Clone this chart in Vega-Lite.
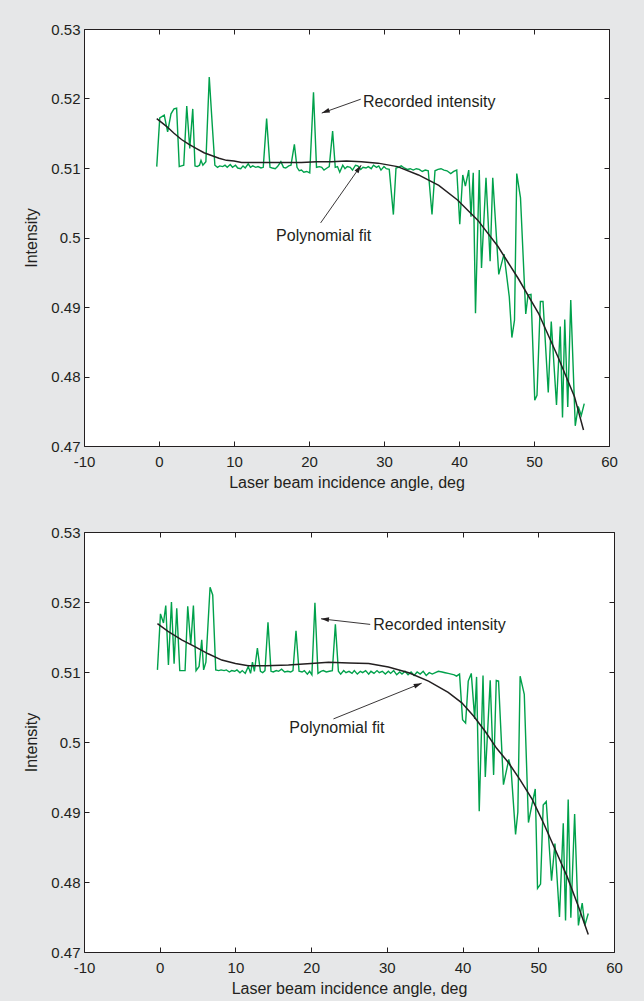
{
  "$schema": "https://vega.github.io/schema/vega-lite/v6.json",
  "background": "#e6e7e8",
  "padding": {"left": 23, "top": 21, "right": 21, "bottom": 4},
  "spacing": 33,
  "datasets": {
    "rec1": [
      {"x": -0.3, "y": 0.5102}, {"x": 0.1, "y": 0.5172}, {"x": 0.7, "y": 0.5176}, {"x": 1.15, "y": 0.5152}, {"x": 1.6, "y": 0.5178},
      {"x": 2.0, "y": 0.5185}, {"x": 2.35, "y": 0.5186}, {"x": 2.7, "y": 0.5102}, {"x": 3.0, "y": 0.5103}, {"x": 3.3, "y": 0.5104},
      {"x": 3.7, "y": 0.5189}, {"x": 4.1, "y": 0.5128}, {"x": 4.5, "y": 0.5185}, {"x": 4.8, "y": 0.5103}, {"x": 5.1, "y": 0.5102},
      {"x": 5.4, "y": 0.5104}, {"x": 5.6, "y": 0.5111}, {"x": 5.85, "y": 0.5104}, {"x": 6.25, "y": 0.5109}, {"x": 6.7, "y": 0.5231},
      {"x": 7.1, "y": 0.5162}, {"x": 7.45, "y": 0.5104}, {"x": 7.8, "y": 0.5101}, {"x": 8.1, "y": 0.5103}, {"x": 8.5, "y": 0.5102},
      {"x": 8.8, "y": 0.5104}, {"x": 9.1, "y": 0.5101}, {"x": 9.5, "y": 0.5105}, {"x": 9.8, "y": 0.5101}, {"x": 10.2, "y": 0.5104},
      {"x": 10.5, "y": 0.51}, {"x": 10.9, "y": 0.5099}, {"x": 11.2, "y": 0.5103}, {"x": 11.5, "y": 0.51}, {"x": 11.9, "y": 0.5106},
      {"x": 12.2, "y": 0.5101}, {"x": 12.5, "y": 0.5103}, {"x": 12.9, "y": 0.5101}, {"x": 13.2, "y": 0.5102}, {"x": 13.6, "y": 0.51},
      {"x": 13.9, "y": 0.5101}, {"x": 14.35, "y": 0.5171}, {"x": 14.8, "y": 0.5101}, {"x": 15.1, "y": 0.51}, {"x": 15.5, "y": 0.5099},
      {"x": 15.8, "y": 0.5102}, {"x": 16.25, "y": 0.5109}, {"x": 16.6, "y": 0.5101}, {"x": 16.9, "y": 0.51}, {"x": 17.3, "y": 0.5103},
      {"x": 17.6, "y": 0.5104}, {"x": 18.05, "y": 0.5134}, {"x": 18.4, "y": 0.5101}, {"x": 18.7, "y": 0.5096}, {"x": 19.0, "y": 0.5097},
      {"x": 19.3, "y": 0.5094}, {"x": 19.7, "y": 0.5095}, {"x": 20.1, "y": 0.5093}, {"x": 20.6, "y": 0.5209}, {"x": 21.0, "y": 0.5101},
      {"x": 21.4, "y": 0.5102}, {"x": 21.7, "y": 0.5101}, {"x": 22.0, "y": 0.5097}, {"x": 22.4, "y": 0.51}, {"x": 22.7, "y": 0.5102},
      {"x": 23.15, "y": 0.5153}, {"x": 23.5, "y": 0.5101}, {"x": 23.8, "y": 0.5102}, {"x": 24.1, "y": 0.5094}, {"x": 24.5, "y": 0.5104},
      {"x": 24.8, "y": 0.5099}, {"x": 25.1, "y": 0.5102}, {"x": 25.5, "y": 0.5101}, {"x": 25.8, "y": 0.5097}, {"x": 26.2, "y": 0.5104},
      {"x": 26.5, "y": 0.5103}, {"x": 26.9, "y": 0.5098}, {"x": 27.2, "y": 0.5101}, {"x": 27.6, "y": 0.51}, {"x": 27.9, "y": 0.5102},
      {"x": 28.3, "y": 0.5099}, {"x": 28.6, "y": 0.5104}, {"x": 29.0, "y": 0.5101}, {"x": 29.3, "y": 0.5103}, {"x": 29.6, "y": 0.5097},
      {"x": 30.0, "y": 0.5102}, {"x": 30.3, "y": 0.5099}, {"x": 30.7, "y": 0.5098}, {"x": 31.25, "y": 0.5033}, {"x": 31.6, "y": 0.51},
      {"x": 31.9, "y": 0.5101}, {"x": 32.3, "y": 0.5103}, {"x": 32.7, "y": 0.51}, {"x": 33.1, "y": 0.5098}, {"x": 33.5, "y": 0.5099},
      {"x": 33.9, "y": 0.5097}, {"x": 34.3, "y": 0.5099}, {"x": 34.7, "y": 0.5098}, {"x": 35.1, "y": 0.5095}, {"x": 35.5, "y": 0.5097},
      {"x": 35.9, "y": 0.5096}, {"x": 36.4, "y": 0.5033}, {"x": 36.8, "y": 0.5096}, {"x": 37.2, "y": 0.5098}, {"x": 37.6, "y": 0.5099},
      {"x": 38.0, "y": 0.5097}, {"x": 38.4, "y": 0.5096}, {"x": 38.9, "y": 0.5092}, {"x": 39.3, "y": 0.5095}, {"x": 39.7, "y": 0.5097},
      {"x": 40.1, "y": 0.5019}, {"x": 40.5, "y": 0.509}, {"x": 40.85, "y": 0.5074}, {"x": 41.3, "y": 0.5097}, {"x": 41.6, "y": 0.503},
      {"x": 41.9, "y": 0.5093}, {"x": 42.2, "y": 0.4891}, {"x": 42.7, "y": 0.5097}, {"x": 43.0, "y": 0.4956}, {"x": 43.6, "y": 0.5086},
      {"x": 44.15, "y": 0.4966}, {"x": 44.5, "y": 0.5086}, {"x": 45.3, "y": 0.4947}, {"x": 46.0, "y": 0.4976}, {"x": 46.7, "y": 0.4915},
      {"x": 47.05, "y": 0.4856}, {"x": 47.4, "y": 0.4881}, {"x": 47.7, "y": 0.5092}, {"x": 48.2, "y": 0.5057}, {"x": 48.9, "y": 0.489},
      {"x": 49.2, "y": 0.4917}, {"x": 49.6, "y": 0.4918}, {"x": 50.1, "y": 0.4766}, {"x": 50.4, "y": 0.4773}, {"x": 50.85, "y": 0.4908},
      {"x": 51.2, "y": 0.4908}, {"x": 51.9, "y": 0.4777}, {"x": 52.3, "y": 0.4879}, {"x": 53.0, "y": 0.4759}, {"x": 53.5, "y": 0.4872},
      {"x": 53.8, "y": 0.4741}, {"x": 54.1, "y": 0.4882}, {"x": 54.5, "y": 0.4756}, {"x": 54.9, "y": 0.491}, {"x": 55.5, "y": 0.4729},
      {"x": 55.9, "y": 0.4757}, {"x": 56.3, "y": 0.4744}, {"x": 56.7, "y": 0.4761}
    ],
    "fit1": [
      {"x": -0.3, "y": 0.5171}, {"x": 1.0, "y": 0.516}, {"x": 2.0, "y": 0.515}, {"x": 3.0, "y": 0.5141}, {"x": 4.0, "y": 0.5134},
      {"x": 5.0, "y": 0.5128}, {"x": 6.0, "y": 0.5122}, {"x": 7.0, "y": 0.5118}, {"x": 8.0, "y": 0.5114}, {"x": 9.0, "y": 0.5111},
      {"x": 10.0, "y": 0.511}, {"x": 11.0, "y": 0.5108}, {"x": 13.0, "y": 0.5108}, {"x": 15.0, "y": 0.5108}, {"x": 17.0, "y": 0.5108},
      {"x": 19.0, "y": 0.5108}, {"x": 21.0, "y": 0.5109}, {"x": 23.0, "y": 0.5109}, {"x": 25.0, "y": 0.511}, {"x": 27.0, "y": 0.5109},
      {"x": 29.2, "y": 0.5107}, {"x": 31.8, "y": 0.5102}, {"x": 34.6, "y": 0.509}, {"x": 37.3, "y": 0.5075}, {"x": 39.8, "y": 0.5054},
      {"x": 42.5, "y": 0.5025}, {"x": 45.2, "y": 0.4987}, {"x": 47.9, "y": 0.4941}, {"x": 50.6, "y": 0.4891}, {"x": 53.2, "y": 0.4828},
      {"x": 55.4, "y": 0.4771}, {"x": 56.6, "y": 0.4723}
    ],
    "rec2": [
      {"x": -0.3, "y": 0.5103}, {"x": 0.1, "y": 0.5183}, {"x": 0.5, "y": 0.517}, {"x": 0.8, "y": 0.5195}, {"x": 1.15, "y": 0.511},
      {"x": 1.55, "y": 0.52}, {"x": 1.9, "y": 0.5112}, {"x": 2.25, "y": 0.5191}, {"x": 2.65, "y": 0.5102}, {"x": 3.0, "y": 0.5102},
      {"x": 3.35, "y": 0.5102}, {"x": 3.7, "y": 0.5194}, {"x": 4.1, "y": 0.5139}, {"x": 4.45, "y": 0.5195}, {"x": 4.8, "y": 0.5102},
      {"x": 5.2, "y": 0.5108}, {"x": 5.55, "y": 0.5146}, {"x": 5.8, "y": 0.5103}, {"x": 6.1, "y": 0.5114}, {"x": 6.65, "y": 0.5221},
      {"x": 7.0, "y": 0.521}, {"x": 7.4, "y": 0.5103}, {"x": 7.8, "y": 0.5102}, {"x": 8.1, "y": 0.5103}, {"x": 8.5, "y": 0.5102},
      {"x": 8.8, "y": 0.5103}, {"x": 9.2, "y": 0.51}, {"x": 9.5, "y": 0.5102}, {"x": 9.9, "y": 0.5101}, {"x": 10.2, "y": 0.5103},
      {"x": 10.6, "y": 0.5099}, {"x": 10.9, "y": 0.5102}, {"x": 11.3, "y": 0.5098}, {"x": 11.7, "y": 0.5108}, {"x": 12.0, "y": 0.5098},
      {"x": 12.25, "y": 0.5114}, {"x": 12.5, "y": 0.5101}, {"x": 12.9, "y": 0.5134}, {"x": 13.3, "y": 0.5101}, {"x": 13.6, "y": 0.5099},
      {"x": 13.9, "y": 0.5102}, {"x": 14.3, "y": 0.5171}, {"x": 14.7, "y": 0.5101}, {"x": 15.0, "y": 0.51}, {"x": 15.4, "y": 0.5102},
      {"x": 15.7, "y": 0.5101}, {"x": 16.1, "y": 0.5104}, {"x": 16.5, "y": 0.51}, {"x": 16.9, "y": 0.5101}, {"x": 17.3, "y": 0.51},
      {"x": 17.6, "y": 0.5102}, {"x": 18.0, "y": 0.5159}, {"x": 18.4, "y": 0.5101}, {"x": 18.8, "y": 0.51}, {"x": 19.1, "y": 0.5102},
      {"x": 19.5, "y": 0.5097}, {"x": 19.8, "y": 0.5101}, {"x": 20.1, "y": 0.5096}, {"x": 20.5, "y": 0.5199}, {"x": 20.9, "y": 0.5098},
      {"x": 21.3, "y": 0.5101}, {"x": 21.6, "y": 0.5102}, {"x": 22.0, "y": 0.51}, {"x": 22.4, "y": 0.5101}, {"x": 22.8, "y": 0.5102},
      {"x": 23.2, "y": 0.5168}, {"x": 23.6, "y": 0.5101}, {"x": 23.9, "y": 0.5097}, {"x": 24.3, "y": 0.5102}, {"x": 24.6, "y": 0.5099},
      {"x": 25.0, "y": 0.5101}, {"x": 25.4, "y": 0.5098}, {"x": 25.7, "y": 0.5102}, {"x": 26.1, "y": 0.5097}, {"x": 26.5, "y": 0.5101},
      {"x": 26.8, "y": 0.5099}, {"x": 27.2, "y": 0.5102}, {"x": 27.6, "y": 0.5097}, {"x": 27.9, "y": 0.5101}, {"x": 28.3, "y": 0.5098},
      {"x": 28.7, "y": 0.5102}, {"x": 29.0, "y": 0.5099}, {"x": 29.4, "y": 0.5101}, {"x": 29.8, "y": 0.5097}, {"x": 30.2, "y": 0.5101},
      {"x": 30.5, "y": 0.5098}, {"x": 30.9, "y": 0.5102}, {"x": 31.3, "y": 0.5096}, {"x": 31.7, "y": 0.51}, {"x": 32.0, "y": 0.5097},
      {"x": 32.4, "y": 0.5101}, {"x": 32.8, "y": 0.5096}, {"x": 33.2, "y": 0.51}, {"x": 33.6, "y": 0.5095}, {"x": 34.0, "y": 0.51},
      {"x": 34.4, "y": 0.5097}, {"x": 34.8, "y": 0.5101}, {"x": 35.2, "y": 0.5095}, {"x": 35.6, "y": 0.5099}, {"x": 36.0, "y": 0.5097},
      {"x": 36.4, "y": 0.5099}, {"x": 36.8, "y": 0.5101}, {"x": 37.3, "y": 0.51}, {"x": 37.7, "y": 0.5099}, {"x": 38.1, "y": 0.5098},
      {"x": 38.5, "y": 0.5097}, {"x": 38.9, "y": 0.5096}, {"x": 39.2, "y": 0.5094}, {"x": 39.6, "y": 0.5097}, {"x": 40.0, "y": 0.5032},
      {"x": 40.4, "y": 0.5027}, {"x": 40.75, "y": 0.5087}, {"x": 41.15, "y": 0.5098}, {"x": 41.6, "y": 0.5033}, {"x": 41.85, "y": 0.5093},
      {"x": 42.2, "y": 0.4901}, {"x": 42.7, "y": 0.5095}, {"x": 43.0, "y": 0.495}, {"x": 43.65, "y": 0.5088}, {"x": 44.1, "y": 0.4953},
      {"x": 44.45, "y": 0.5088}, {"x": 44.75, "y": 0.5087}, {"x": 45.4, "y": 0.4939}, {"x": 46.1, "y": 0.4975}, {"x": 46.4, "y": 0.4962},
      {"x": 47.0, "y": 0.4868}, {"x": 47.3, "y": 0.49}, {"x": 47.6, "y": 0.5094}, {"x": 48.15, "y": 0.5068}, {"x": 48.7, "y": 0.4885},
      {"x": 49.1, "y": 0.4907}, {"x": 49.6, "y": 0.4933}, {"x": 49.9, "y": 0.4791}, {"x": 50.3, "y": 0.4797}, {"x": 50.65, "y": 0.491},
      {"x": 51.05, "y": 0.4915}, {"x": 51.75, "y": 0.4802}, {"x": 52.2, "y": 0.4855}, {"x": 52.8, "y": 0.475}, {"x": 53.3, "y": 0.4884},
      {"x": 53.6, "y": 0.4745}, {"x": 53.95, "y": 0.4918}, {"x": 54.3, "y": 0.4749}, {"x": 54.8, "y": 0.4897}, {"x": 55.3, "y": 0.4738},
      {"x": 55.8, "y": 0.477}, {"x": 56.15, "y": 0.4738}, {"x": 56.6, "y": 0.4755}
    ],
    "fit2": [
      {"x": -0.3, "y": 0.5169}, {"x": 1.1, "y": 0.5158}, {"x": 2.9, "y": 0.5146}, {"x": 4.7, "y": 0.5136}, {"x": 6.4, "y": 0.5126},
      {"x": 8.2, "y": 0.5117}, {"x": 10.0, "y": 0.5112}, {"x": 11.7, "y": 0.5109}, {"x": 14.0, "y": 0.5109}, {"x": 17.0, "y": 0.511},
      {"x": 20.0, "y": 0.5112}, {"x": 22.3, "y": 0.5114}, {"x": 25.0, "y": 0.5113}, {"x": 27.6, "y": 0.5112}, {"x": 30.2, "y": 0.5107},
      {"x": 32.9, "y": 0.5099}, {"x": 35.5, "y": 0.5087}, {"x": 38.1, "y": 0.5071}, {"x": 39.9, "y": 0.5056}, {"x": 41.45, "y": 0.5037},
      {"x": 43.0, "y": 0.5015}, {"x": 44.5, "y": 0.4991}, {"x": 46.1, "y": 0.497}, {"x": 47.6, "y": 0.4946}, {"x": 49.2, "y": 0.4918},
      {"x": 50.7, "y": 0.4884}, {"x": 52.25, "y": 0.4846}, {"x": 53.8, "y": 0.4808}, {"x": 55.3, "y": 0.4765}, {"x": 56.6, "y": 0.4725}
    ],
    "ann1": [
      {"kind": "rec", "x": 26.9, "y": 0.5199, "x2": 21.7, "y2": 0.5179, "tx": 27.2, "ty": 0.5195, "text": "Recorded intensity"},
      {"kind": "fit", "x": 21.55, "y": 0.5021, "x2": 26.95, "y2": 0.5104, "tx": 21.96, "ty": 0.5002, "text": "Polynomial fit"}
    ],
    "ann2": [
      {"kind": "rec", "x": 27.8, "y": 0.5168, "x2": 21.3, "y2": 0.5176, "tx": 28.2, "ty": 0.5167, "text": "Recorded intensity"},
      {"kind": "fit", "x": 22.95, "y": 0.5033, "x2": 34.6, "y2": 0.5084, "tx": 23.4, "ty": 0.502, "text": "Polynomial fit"}
    ]
  },
  "vconcat": [
    {
      "width": 525,
      "height": 417,
      "layer": [
        {
          "data": {"name": "rec1"},
          "mark": {"type": "line", "color": "#00a14b", "strokeWidth": 1.4},
          "encoding": {
            "x": {"field": "x", "type": "quantitative", "scale": {"domain": [-10, 60], "nice": false, "zero": false},
                  "axis": {"orient": "bottom", "values": [-10, 0, 10, 20, 30, 40, 50, 60], "labelExpr": "toString(datum.value)", "title": "Laser beam incidence angle, deg"}},
            "y": {"field": "y", "type": "quantitative", "scale": {"domain": [0.47, 0.53], "nice": false, "zero": false},
                  "axis": {"orient": "left", "values": [0.47, 0.48, 0.49, 0.5, 0.51, 0.52, 0.53], "labelExpr": "toString(datum.value)", "title": "Intensity"}}
          }
        },
        {
          "data": {"name": "fit1"},
          "mark": {"type": "line", "color": "#231f20", "strokeWidth": 1.5},
          "encoding": {
            "x": {"field": "x", "type": "quantitative", "axis": {"orient": "top", "labels": false, "title": null, "values": [-10, 0, 10, 20, 30, 40, 50, 60]}},
            "y": {"field": "y", "type": "quantitative", "axis": {"orient": "right", "labels": false, "title": null, "values": [0.47, 0.48, 0.49, 0.5, 0.51, 0.52, 0.53]}}
          }
        },
        {
          "data": {"name": "ann1"},
          "mark": {"type": "rule", "color": "#231f20", "strokeWidth": 0.9},
          "encoding": {
            "x": {"field": "x", "type": "quantitative", "axis": null},
            "y": {"field": "y", "type": "quantitative", "axis": null},
            "x2": {"field": "x2"},
            "y2": {"field": "y2"}
          }
        },
        {
          "data": {"name": "ann1"},
          "transform": [{"filter": "datum.kind == 'rec'"}],
          "mark": {"type": "point", "shape": "M0,0L0.3,1L-0.3,1Z", "filled": true, "size": 256, "angle": 250, "color": "#231f20", "opacity": 1},
          "encoding": {
            "x": {"field": "x2", "type": "quantitative", "axis": null},
            "y": {"field": "y2", "type": "quantitative", "axis": null}
          }
        },
        {
          "data": {"name": "ann1"},
          "transform": [{"filter": "datum.kind == 'fit'"}],
          "mark": {"type": "point", "shape": "M0,0L0.3,1L-0.3,1Z", "filled": true, "size": 256, "angle": 35, "color": "#231f20", "opacity": 1},
          "encoding": {
            "x": {"field": "x2", "type": "quantitative", "axis": null},
            "y": {"field": "y2", "type": "quantitative", "axis": null}
          }
        },
        {
          "data": {"name": "ann1"},
          "transform": [{"filter": "datum.kind == 'rec'"}],
          "mark": {"type": "text", "align": "left", "baseline": "middle", "fontSize": 16, "color": "#231f20", "font": "Liberation Sans"},
          "encoding": {
            "x": {"field": "tx", "type": "quantitative", "axis": null},
            "y": {"field": "ty", "type": "quantitative", "axis": null},
            "text": {"field": "text"}
          }
        },
        {
          "data": {"name": "ann1"},
          "transform": [{"filter": "datum.kind == 'fit'"}],
          "mark": {"type": "text", "align": "center", "baseline": "middle", "fontSize": 16, "color": "#231f20", "font": "Liberation Sans"},
          "encoding": {
            "x": {"field": "tx", "type": "quantitative", "axis": null},
            "y": {"field": "ty", "type": "quantitative", "axis": null},
            "text": {"field": "text"}
          }
        }
      ],
      "resolve": {"axis": {"x": "independent", "y": "independent"}}
    },
    {
      "width": 530,
      "height": 420,
      "layer": [
        {
          "data": {"name": "rec2"},
          "mark": {"type": "line", "color": "#00a14b", "strokeWidth": 1.4},
          "encoding": {
            "x": {"field": "x", "type": "quantitative", "scale": {"domain": [-10, 60], "nice": false, "zero": false},
                  "axis": {"orient": "bottom", "values": [-10, 0, 10, 20, 30, 40, 50, 60], "labelExpr": "toString(datum.value)", "title": "Laser beam incidence angle, deg"}},
            "y": {"field": "y", "type": "quantitative", "scale": {"domain": [0.47, 0.53], "nice": false, "zero": false},
                  "axis": {"orient": "left", "values": [0.47, 0.48, 0.49, 0.5, 0.51, 0.52, 0.53], "labelExpr": "toString(datum.value)", "title": "Intensity"}}
          }
        },
        {
          "data": {"name": "fit2"},
          "mark": {"type": "line", "color": "#231f20", "strokeWidth": 1.5},
          "encoding": {
            "x": {"field": "x", "type": "quantitative", "axis": {"orient": "top", "labels": false, "title": null, "values": [-10, 0, 10, 20, 30, 40, 50, 60]}},
            "y": {"field": "y", "type": "quantitative", "axis": {"orient": "right", "labels": false, "title": null, "values": [0.47, 0.48, 0.49, 0.5, 0.51, 0.52, 0.53]}}
          }
        },
        {
          "data": {"name": "ann2"},
          "mark": {"type": "rule", "color": "#231f20", "strokeWidth": 0.9},
          "encoding": {
            "x": {"field": "x", "type": "quantitative", "axis": null},
            "y": {"field": "y", "type": "quantitative", "axis": null},
            "x2": {"field": "x2"},
            "y2": {"field": "y2"}
          }
        },
        {
          "data": {"name": "ann2"},
          "transform": [{"filter": "datum.kind == 'rec'"}],
          "mark": {"type": "point", "shape": "M0,0L0.3,1L-0.3,1Z", "filled": true, "size": 256, "angle": 276.5, "color": "#231f20", "opacity": 1},
          "encoding": {
            "x": {"field": "x2", "type": "quantitative", "axis": null},
            "y": {"field": "y2", "type": "quantitative", "axis": null}
          }
        },
        {
          "data": {"name": "ann2"},
          "transform": [{"filter": "datum.kind == 'fit'"}],
          "mark": {"type": "point", "shape": "M0,0L0.3,1L-0.3,1Z", "filled": true, "size": 256, "angle": 68, "color": "#231f20", "opacity": 1},
          "encoding": {
            "x": {"field": "x2", "type": "quantitative", "axis": null},
            "y": {"field": "y2", "type": "quantitative", "axis": null}
          }
        },
        {
          "data": {"name": "ann2"},
          "transform": [{"filter": "datum.kind == 'rec'"}],
          "mark": {"type": "text", "align": "left", "baseline": "middle", "fontSize": 16, "color": "#231f20", "font": "Liberation Sans"},
          "encoding": {
            "x": {"field": "tx", "type": "quantitative", "axis": null},
            "y": {"field": "ty", "type": "quantitative", "axis": null},
            "text": {"field": "text"}
          }
        },
        {
          "data": {"name": "ann2"},
          "transform": [{"filter": "datum.kind == 'fit'"}],
          "mark": {"type": "text", "align": "center", "baseline": "middle", "fontSize": 16, "color": "#231f20", "font": "Liberation Sans"},
          "encoding": {
            "x": {"field": "tx", "type": "quantitative", "axis": null},
            "y": {"field": "ty", "type": "quantitative", "axis": null},
            "text": {"field": "text"}
          }
        }
      ],
      "resolve": {"axis": {"x": "independent", "y": "independent"}}
    }
  ],
  "config": {
    "font": "Liberation Sans",
    "view": {"stroke": "#231f20", "strokeWidth": 1, "fill": "white"},
    "axis": {
      "domain": false, "grid": false, "tickColor": "#231f20", "tickSize": -5, "tickWidth": 1,
      "labelFont": "Liberation Sans", "labelFontSize": 15, "labelColor": "#231f20", "labelFlush": false,
      "titleFont": "Liberation Sans", "titleFontSize": 16, "titleFontWeight": "normal", "titleColor": "#231f20"
    },
    "axisX": {"labelPadding": 13, "titlePadding": 5},
    "axisY": {"labelPadding": 9, "titlePadding": 11}
  }
}
